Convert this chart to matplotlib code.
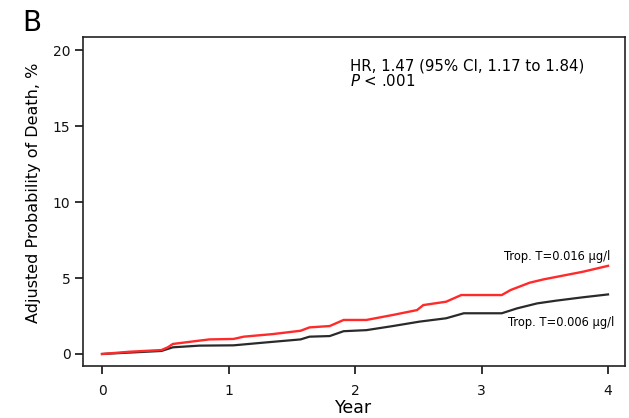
import matplotlib
matplotlib.use("Agg")
import matplotlib.pyplot as plt

plt.rcParams['font.family'] = ['DejaVu Sans']

# Data
red_year = [0, 0.22, 0.47, 0.52, 0.56, 0.77, 0.85, 1.04, 1.12, 1.35, 1.57, 1.64, 1.80, 1.91,
            2.09, 2.30, 2.49, 2.54, 2.72, 2.84, 3.16, 3.23, 3.38, 3.49, 3.67, 3.80, 4.0]
red_prob = [0, 0.15, 0.26, 0.44, 0.66, 0.88, 0.96, 0.99, 1.14, 1.31, 1.53, 1.75, 1.84, 2.24,
            2.24, 2.57, 2.89, 3.22, 3.44, 3.88, 3.88, 4.21, 4.69, 4.91, 5.20, 5.41, 5.80]
black_year = [0, 0.47, 0.56, 0.77, 1.04, 1.28, 1.57, 1.64, 1.80, 1.91, 2.09, 2.30, 2.51,
              2.72, 2.86, 3.16, 3.28, 3.44, 3.59, 3.80, 4.0]
black_prob = [0, 0.20, 0.44, 0.55, 0.57, 0.75, 0.96, 1.14, 1.18, 1.50, 1.57, 1.84, 2.13,
              2.35, 2.68, 2.68, 3.00, 3.33, 3.51, 3.73, 3.92]
x_ticks = [0, 1, 2, 3, 4]
y_ticks = [0, 5, 10, 15, 20]
label_high = "Trop. T=0.016 µg/l"
label_low = "Trop. T=0.006 µg/l"
annot_hr = "HR, 1.47 (95% CI, 1.17 to 1.84)"

fig = plt.figure(figsize=(6.29, 4.18), dpi=100)
ax = fig.add_axes([0.132, 0.1244, 0.8616, 0.7871])

ax.plot(black_year, black_prob, color='#2a2a2a', lw=1.6, solid_joinstyle='miter')
ax.plot(red_year, red_prob, color='#ff2a2a', lw=1.7, solid_joinstyle='miter')

ax.set_xlim(-0.15, 4.134)
ax.set_ylim(-0.79, 20.86)
ax.set_xticks(x_ticks)
ax.set_yticks(y_ticks)
ax.tick_params(direction='out', length=6, width=1.2, labelsize=10, colors='#111111')
ax.tick_params(axis='x', pad=7)
ax.tick_params(axis='y', pad=3)
for s in ax.spines.values():
    s.set_linewidth(1.2)
    s.set_color('#222222')

ax.set_xlabel('Year', fontsize=12.5, labelpad=1)
ax.set_ylabel('Adjusted Probability of Death, %', fontsize=11.5)
ax.yaxis.set_label_coords(-0.078, 0.527)

ax.text(4.02, 6.4, label_high, fontsize=8.3, ha='right', va='center')
ax.text(4.05, 2.05, label_low, fontsize=8.3, ha='right', va='center')

ax.text(1.96, 18.95, annot_hr, fontsize=10.8, ha='left', va='center')
ax.text(1.96, 17.96, r'$\it{P}$ < .001', fontsize=10.8, ha='left', va='center')

fig.text(0.036, 0.978, 'B', fontsize=20, ha='left', va='top')

fig.savefig('out.png', dpi=100)
